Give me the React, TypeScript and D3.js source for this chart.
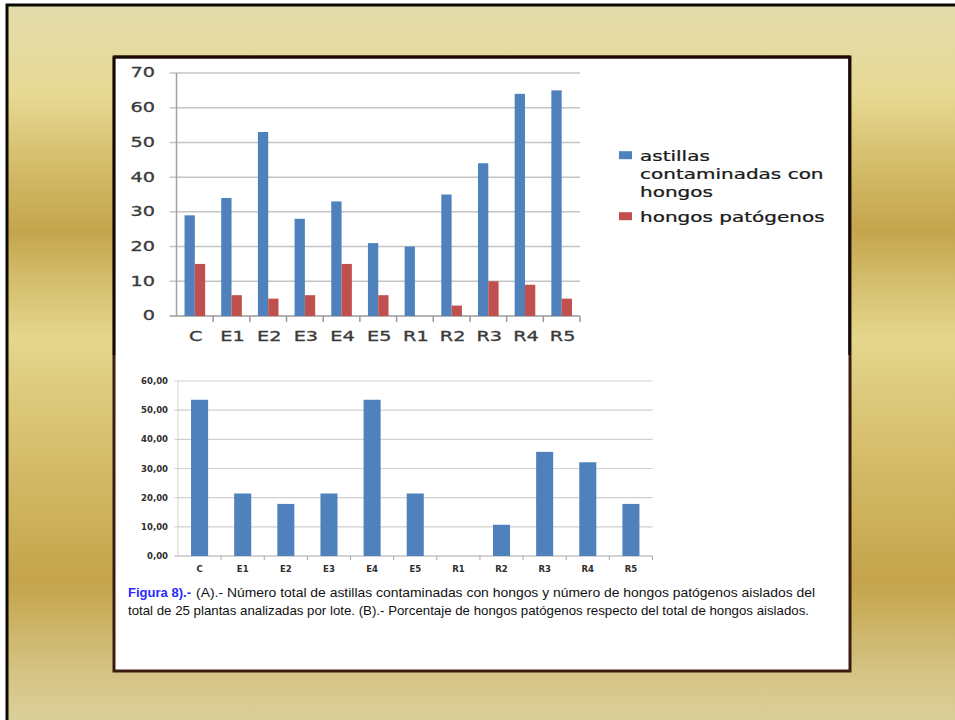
import React from "react";
import * as d3 from "d3";

// Lotes analizados
const categories = ["C", "E1", "E2", "E3", "E4", "E5", "R1", "R2", "R3", "R4", "R5"];

// (A) número de astillas contaminadas con hongos y de hongos patógenos
const astillasContaminadas = [29, 34, 53, 28, 33, 21, 20, 35, 44, 64, 65];
const hongosPatogenos = [15, 6, 5, 6, 15, 6, 0, 3, 10, 9, 5];

// (B) porcentaje de hongos patógenos
const porcentajePatogenos = [53.57, 21.43, 17.86, 21.43, 53.57, 21.43, 0, 10.71, 35.71, 32.14, 17.86];

const ticksA = [0, 10, 20, 30, 40, 50, 60, 70];
const ticksB = [0, 10, 20, 30, 40, 50, 60];

const seriesA = [
  { name: "astillas contaminadas con hongos", lines: ["astillas", "contaminadas con", "hongos"], values: astillasContaminadas, color: "#4f81bd" },
  { name: "hongos patógenos", lines: ["hongos patógenos"], values: hongosPatogenos, color: "#c0504d" },
];

const captionLead = "Figura 8).-";
const captionLine1 = "(A).- Número total de astillas contaminadas con hongos y número de hongos patógenos aislados del";
const captionLine2 = "total de 25 plantas analizadas por lote. (B).- Porcentaje de hongos patógenos respecto del total de hongos aislados.";

const W = 955;
const H = 720;

// chart A geometry
const A = { left: 176.5, right: 580, top: 73, bottom: 316 };
// chart B geometry
const B = { left: 178, right: 652.5, top: 381, bottom: 556 };

const SX = 1.45; // horizontally widened lettering of chart A
const fontA = "'DejaVu Sans', Verdana, sans-serif";

export default function App() {
  const xA = d3.scaleBand<string>().domain(categories).range([A.left, A.right]);
  const xInner = d3
    .scaleBand<number>()
    .domain(seriesA.map((_, i) => i))
    .range([0, xA.bandwidth()])
    .paddingInner(0)
    .paddingOuter(0.78);
  const yA = d3.scaleLinear().domain([0, 70]).range([A.bottom, A.top]);

  const xB = d3.scaleBand<string>().domain(categories).range([B.left, B.right]).paddingInner(0.605).paddingOuter(0.3025);
  const xBTicks = d3.scaleBand<string>().domain(categories).range([B.left, B.right]);
  const yB = d3.scaleLinear().domain([0, 60]).range([B.bottom, B.top]);
  const fmtB = (v: number) => d3.format(".2f")(v).replace(".", ",");

  const stepA = xA.step();
  const stepB = xBTicks.step();

  return (
    <svg width={W} height={H} style={{ position: "absolute", left: 0, top: 0 }}>
      <defs>
        <linearGradient id="oro" x1="0" y1="0" x2="0" y2="1">
          <stop offset="0" stopColor="#e4dcad" />
          <stop offset="0.12" stopColor="#e7d993" />
          <stop offset="0.22" stopColor="#d3bb68" />
          <stop offset="0.305" stopColor="#c4a54d" />
          <stop offset="0.38" stopColor="#d6c070" />
          <stop offset="0.45" stopColor="#e4d68c" />
          <stop offset="0.6" stopColor="#d6be6c" />
          <stop offset="0.78" stopColor="#c4a44b" />
          <stop offset="0.9" stopColor="#d5c383" />
          <stop offset="1" stopColor="#ded6a6" />
        </linearGradient>
      </defs>
      <rect x={0} y={0} width={W} height={H} fill="#ffffff" />
      <rect x={7} y={5} width={W + 20} height={H + 20} fill="url(#oro)" stroke="#0a0a00" strokeWidth={3} />

      {/* white panel */}
      <rect x={114} y={57} width={736} height={614} fill="#ffffff" stroke="#3b1c10" strokeWidth={3} />
      <line x1={114} x2={114} y1={57} y2={355} stroke="#140804" strokeWidth={2.5} />
      <line x1={849.5} x2={849.5} y1={57} y2={355} stroke="#140804" strokeWidth={2.5} />
      <line x1={114} x2={850} y1={57} y2={57} stroke="#1e0c06" strokeWidth={3} />

      {/* chart A: gridlines */}
      <g>
        {ticksA.map((t) => (
          <line key={t} x1={A.left - 7} x2={A.right} y1={yA(t)} y2={yA(t)} stroke={t === 0 ? "#9a9a9a" : "#c4c4c4"} strokeWidth={1.5} />
        ))}
        <line x1={A.left} x2={A.left} y1={A.top} y2={A.bottom} stroke="#a0a0a0" strokeWidth={1.5} />
        {categories.map((c, i) => (
          <line key={c} x1={A.left + (i + 1) * stepA} x2={A.left + (i + 1) * stepA} y1={A.bottom} y2={A.bottom + 6} stroke="#9a9a9a" strokeWidth={1.5} />
        ))}
      </g>
      {/* chart A: bars */}
      <g>
        {seriesA.map((s, si) =>
          s.values.map((v, i) => (
            <rect
              key={`${si}-${i}`}
              x={(xA(categories[i]) ?? 0) + (xInner(si) ?? 0)}
              y={yA(v)}
              width={xInner.bandwidth()}
              height={A.bottom - yA(v)}
              fill={s.color}
            />
          ))
        )}
      </g>
      {/* chart A: labels */}
      <g fontFamily={fontA} fontSize={13.3} fill="#3a3a3a" stroke="#3a3a3a" strokeWidth={0.3}>
        {ticksA.map((t) => (
          <text key={t} transform={`translate(155,${yA(t)}) scale(${SX},1)`} textAnchor="end" dominantBaseline="central">
            {t}
          </text>
        ))}
        {categories.map((c) => (
          <text
            key={c}
            transform={`translate(${(xA(c) ?? 0) + xA.bandwidth() / 2 + 1},341) scale(${SX},1)`}
            textAnchor="middle"
          >
            {c}
          </text>
        ))}
      </g>
      {/* chart A: legend */}
      <g fontFamily={fontA} fontSize={13.8} fill="#1a1a1a" stroke="#1a1a1a" strokeWidth={0.25}>
        {seriesA.map((s, si) => {
          const base = si === 0 ? 160.7 : 221.7;
          return (
            <g key={s.name}>
              <rect x={619} y={base - 9.5} width={13} height={8} fill={s.color} stroke="none" />
              {s.lines.map((ln, li) => (
                <text key={li} transform={`translate(640,${base + li * 18.2}) scale(${SX},1)`}>
                  {ln}
                </text>
              ))}
            </g>
          );
        })}
      </g>

      {/* chart B: gridlines and axes */}
      <g>
        {ticksB.map((t) => (
          <line key={t} x1={B.left - 3.5} x2={B.right} y1={yB(t)} y2={yB(t)} stroke={t === 0 ? "#a8a8a8" : "#cfcfcf"} strokeWidth={1.2} />
        ))}
        <line x1={B.left} x2={B.left} y1={B.top} y2={B.bottom} stroke="#d4d4d4" strokeWidth={1} />
        {categories.map((c, i) => (
          <line key={c} x1={B.left + (i + 1) * stepB} x2={B.left + (i + 1) * stepB} y1={B.bottom} y2={B.bottom + 4} stroke="#a8a8a8" strokeWidth={1} />
        ))}
      </g>
      <g>
        {porcentajePatogenos.map((v, i) => (
          <rect key={categories[i]} x={xB(categories[i])} y={yB(v)} width={xB.bandwidth()} height={B.bottom - yB(v)} fill="#4f81bd" />
        ))}
      </g>
      <g fontFamily={fontA} fontSize={8.5} fontWeight="bold" fill="#2e2e2e">
        {ticksB.map((t) => (
          <text key={t} x={168} y={yB(t)} textAnchor="end" dominantBaseline="central">
            {fmtB(t)}
          </text>
        ))}
        {categories.map((c) => (
          <text key={c} x={(xB(c) ?? 0) + xB.bandwidth() / 2} y={572} textAnchor="middle">
            {c}
          </text>
        ))}
      </g>

      {/* caption */}
      <g fontFamily="'Liberation Sans Narrow', 'Liberation Sans', Arial, sans-serif" fontSize={13}>
        <text x={128} y={597} fill="#2a2aff" fontWeight="bold" textLength={63} lengthAdjust="spacingAndGlyphs">
          {captionLead}
        </text>
        <text x={196} y={597} fill="#111" textLength={619} lengthAdjust="spacingAndGlyphs">
          {captionLine1}
        </text>
        <text x={128} y={615} fill="#111" textLength={681} lengthAdjust="spacingAndGlyphs">
          {captionLine2}
        </text>
      </g>
    </svg>
  );
}
